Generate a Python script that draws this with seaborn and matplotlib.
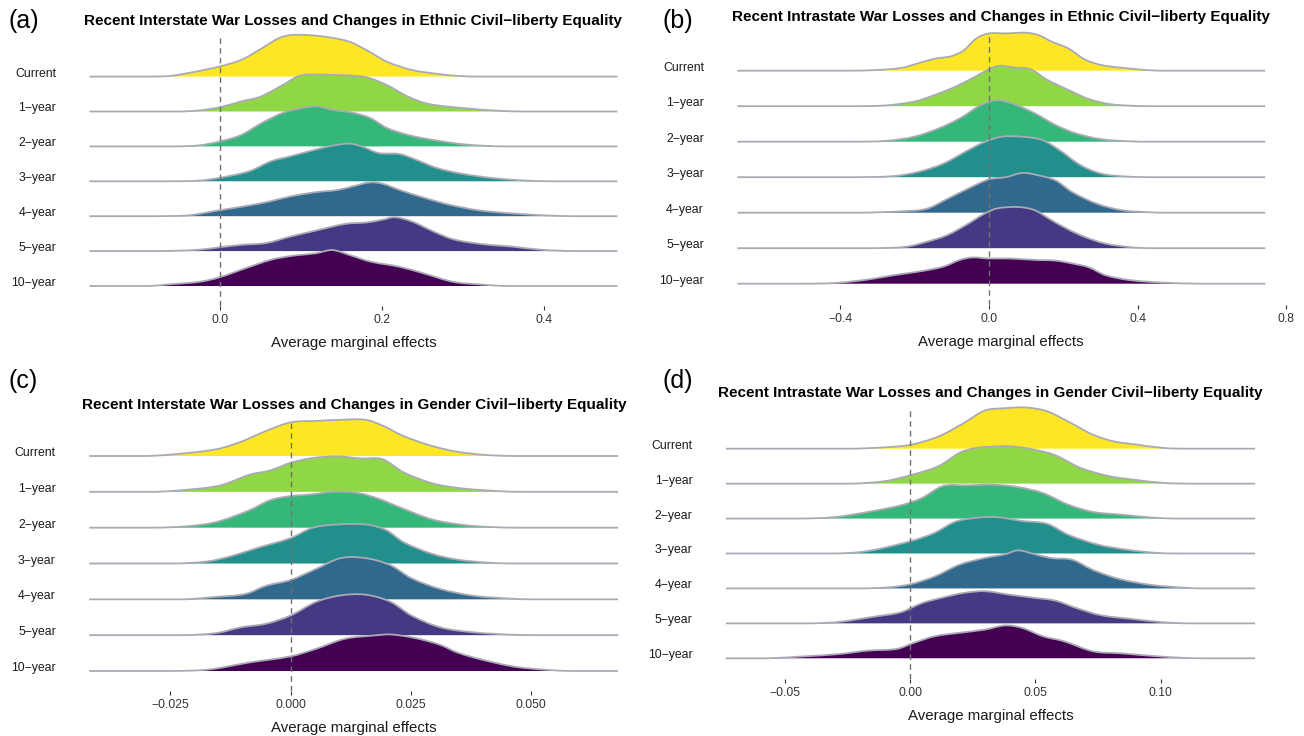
import numpy as np
import matplotlib
matplotlib.use("Agg")
import matplotlib.pyplot as plt
import matplotlib.transforms as mtransforms
from matplotlib.path import Path
from matplotlib.patches import PathPatch
import seaborn as sns

# ridge rows, top to bottom
rows = ["Current", "1\u2212year", "2\u2212year", "3\u2212year", "4\u2212year", "5\u2212year", "10\u2212year"]
colors = ["#FDE725", "#8FD744", "#35B779", "#21908C", "#31688E", "#443A83", "#440154"]
xlabel = "Average marginal effects"

# (a) interstate / ethnic
a_title = "Recent Interstate War Losses and Changes in Ethnic Civil\u2212liberty Equality"
a_range = [-0.1605, 0.4906]
a_ticks = [0.0, 0.2, 0.4]
a_ticklabels = ["0.0", "0.2", "0.4"]
a_x = [
    [-0.09, -0.061, -0.030, 0.000, 0.027, 0.052, 0.073, 0.088, 0.109, 0.134, 0.160, 0.181, 0.206, 0.237, 0.268, 0.293, 0.319],
    [-0.050, -0.025, 0.000, 0.027, 0.051, 0.078, 0.098, 0.119, 0.150, 0.181, 0.206, 0.232, 0.257, 0.304, 0.345, 0.375],
    [-0.055, -0.025, 0.000, 0.027, 0.052, 0.078, 0.098, 0.119, 0.139, 0.165, 0.186, 0.206, 0.232, 0.257, 0.293, 0.324, 0.355],
    [-0.066, -0.025, 0.000, 0.037, 0.063, 0.088, 0.119, 0.139, 0.160, 0.175, 0.196, 0.222, 0.242, 0.268, 0.298, 0.334, 0.370, 0.406],
    [-0.086, -0.040, 0.000, 0.037, 0.063, 0.088, 0.119, 0.145, 0.165, 0.186, 0.201, 0.222, 0.252, 0.283, 0.319, 0.360, 0.406, 0.437],
    [-0.076, -0.025, 0.000, 0.027, 0.057, 0.088, 0.119, 0.155, 0.181, 0.201, 0.216, 0.237, 0.263, 0.288, 0.324, 0.360, 0.396, 0.437],
    [-0.086, -0.066, -0.025, 0.000, 0.032, 0.063, 0.088, 0.119, 0.139, 0.160, 0.186, 0.222, 0.252, 0.288, 0.324, 0.355],
]
a_h = [
    [0, 0.02, 0.14, 0.29, 0.48, 0.81, 1.10, 1.19, 1.19, 1.13, 1.00, 0.76, 0.43, 0.19, 0.08, 0.02, 0],
    [0, 0.03, 0.12, 0.29, 0.43, 0.76, 1.02, 1.06, 1.04, 0.98, 0.76, 0.43, 0.22, 0.09, 0.02, 0],
    [0, 0.03, 0.14, 0.33, 0.67, 0.96, 1.08, 1.15, 1.05, 0.96, 0.81, 0.53, 0.33, 0.21, 0.08, 0.02, 0],
    [0, 0.02, 0.10, 0.29, 0.57, 0.72, 0.91, 1.02, 1.08, 1.00, 0.81, 0.78, 0.62, 0.38, 0.22, 0.10, 0.03, 0],
    [0, 0.02, 0.17, 0.31, 0.43, 0.57, 0.69, 0.75, 0.86, 0.97, 0.93, 0.75, 0.53, 0.33, 0.17, 0.08, 0.02, 0],
    [0, 0.04, 0.11, 0.18, 0.23, 0.42, 0.59, 0.78, 0.82, 0.90, 0.97, 0.85, 0.57, 0.34, 0.20, 0.13, 0.04, 0],
    [0, 0.04, 0.12, 0.25, 0.51, 0.75, 0.86, 0.94, 1.03, 0.89, 0.70, 0.55, 0.36, 0.12, 0.04, 0],
]

# (b) intrastate / ethnic
b_title = "Recent Intrastate War Losses and Changes in Ethnic Civil\u2212liberty Equality"
b_range = [-0.677, 0.743]
b_ticks = [-0.4, 0.0, 0.4, 0.8]
b_ticklabels = ["\u22120.4", "0.0", "0.4", "0.8"]
b_x = [
    [-0.380, -0.302, -0.235, -0.190, -0.145, -0.101, -0.067, -0.034, 0.000, 0.045, 0.101, 0.134, 0.168, 0.213, 0.257, 0.302, 0.369, 0.436, 0.481],
    [-0.369, -0.280, -0.201, -0.145, -0.090, -0.034, 0.000, 0.028, 0.067, 0.112, 0.157, 0.213, 0.269, 0.324, 0.392, 0.459],
    [-0.369, -0.280, -0.201, -0.134, -0.078, -0.022, 0.022, 0.067, 0.123, 0.179, 0.235, 0.302, 0.380, 0.436],
    [-0.369, -0.257, -0.190, -0.123, -0.056, -0.011, 0.034, 0.090, 0.145, 0.190, 0.246, 0.302, 0.369, 0.436],
    [-0.347, -0.235, -0.168, -0.112, -0.056, 0.000, 0.045, 0.090, 0.134, 0.179, 0.224, 0.291, 0.358, 0.436, 0.481],
    [-0.324, -0.224, -0.168, -0.112, -0.056, -0.011, 0.022, 0.078, 0.123, 0.168, 0.213, 0.257, 0.313, 0.380, 0.436],
    [-0.503, -0.414, -0.324, -0.257, -0.190, -0.123, -0.078, -0.045, 0.000, 0.056, 0.123, 0.179, 0.224, 0.269, 0.313, 0.380, 0.470, 0.571],
]
b_h = [
    [0, 0.02, 0.08, 0.21, 0.34, 0.41, 0.58, 0.91, 1.05, 1.05, 1.07, 1.00, 0.82, 0.63, 0.32, 0.16, 0.07, 0.01, 0],
    [0, 0.02, 0.13, 0.32, 0.55, 0.85, 1.04, 1.14, 1.09, 1.04, 0.74, 0.46, 0.20, 0.06, 0.01, 0],
    [0, 0.02, 0.14, 0.38, 0.66, 1.03, 1.17, 1.06, 0.80, 0.47, 0.23, 0.07, 0.01, 0],
    [0, 0.03, 0.15, 0.38, 0.76, 1.00, 1.14, 1.14, 1.04, 0.76, 0.34, 0.10, 0.02, 0],
    [0, 0.04, 0.11, 0.39, 0.68, 0.94, 1.00, 1.12, 1.05, 0.91, 0.58, 0.25, 0.07, 0.01, 0],
    [0, 0.04, 0.18, 0.37, 0.69, 0.98, 1.12, 1.16, 1.07, 0.79, 0.53, 0.32, 0.13, 0.03, 0],
    [0, 0.02, 0.12, 0.24, 0.34, 0.48, 0.67, 0.74, 0.71, 0.71, 0.67, 0.65, 0.57, 0.46, 0.24, 0.10, 0.03, 0],
]

# (c) interstate / gender
c_title = "Recent Interstate War Losses and Changes in Gender Civil\u2212liberty Equality"
c_range = [-0.0419, 0.0681]
c_ticks = [-0.025, 0.0, 0.025, 0.05]
c_ticklabels = ["\u22120.025", "0.000", "0.025", "0.050"]
c_x = [
    [-0.0301, -0.0241, -0.0154, -0.0103, -0.0051, 0.0, 0.0053, 0.0104, 0.0156, 0.0191, 0.0234, 0.0294, 0.0346, 0.0406, 0.0466],
    [-0.0284, -0.0215, -0.0146, -0.0085, -0.0042, 0.0, 0.0044, 0.0096, 0.0147, 0.0191, 0.0234, 0.0294, 0.0354, 0.0432, 0.0484],
    [-0.0284, -0.0215, -0.0154, -0.0085, -0.0042, 0.0, 0.0044, 0.0087, 0.0139, 0.0182, 0.0234, 0.0294, 0.0363, 0.0432, 0.0475],
    [-0.0241, -0.0172, -0.0120, -0.0068, 0.0, 0.0044, 0.0087, 0.0156, 0.0199, 0.0234, 0.0294, 0.0346, 0.0415, 0.0466],
    [-0.0223, -0.0154, -0.0094, -0.0051, 0.0, 0.0053, 0.0104, 0.0156, 0.0208, 0.0251, 0.0311, 0.0380, 0.0458, 0.0501],
    [-0.0223, -0.0154, -0.0103, -0.0051, 0.0, 0.0053, 0.0104, 0.0156, 0.0208, 0.0251, 0.0311, 0.0380, 0.0466, 0.0509],
    [-0.0258, -0.0172, -0.0085, 0.0, 0.0053, 0.0113, 0.0173, 0.0208, 0.0259, 0.0311, 0.0346, 0.0397, 0.0466, 0.0535, 0.0587],
]
c_h = [
    [0, 0.05, 0.19, 0.40, 0.70, 0.94, 0.98, 1.01, 1.01, 0.85, 0.56, 0.28, 0.12, 0.03, 0],
    [0, 0.06, 0.18, 0.48, 0.60, 0.81, 0.94, 0.99, 0.93, 0.91, 0.55, 0.24, 0.10, 0.02, 0],
    [0, 0.04, 0.16, 0.49, 0.77, 0.88, 0.93, 1.00, 0.97, 0.81, 0.53, 0.23, 0.07, 0.01, 0],
    [0, 0.06, 0.22, 0.44, 0.71, 0.99, 1.08, 1.09, 0.93, 0.60, 0.27, 0.11, 0.02, 0],
    [0, 0.07, 0.15, 0.38, 0.54, 0.85, 1.15, 1.15, 0.95, 0.59, 0.29, 0.10, 0.02, 0],
    [0, 0.06, 0.22, 0.32, 0.55, 0.93, 1.11, 1.13, 0.93, 0.55, 0.22, 0.08, 0.01, 0],
    [0, 0.04, 0.24, 0.41, 0.62, 0.90, 0.99, 1.02, 0.92, 0.73, 0.52, 0.32, 0.12, 0.03, 0],
]

# (d) intrastate / gender
d_title = "Recent Intrastate War Losses and Changes in Gender Civil\u2212liberty Equality"
d_range = [-0.0737, 0.1378]
d_ticks = [-0.05, 0.0, 0.05, 0.10]
d_ticklabels = ["\u22120.05", "0.00", "0.05", "0.10"]
d_x = [
    [-0.0237, -0.0103, 0.0, 0.0113, 0.0213, 0.0297, 0.0380, 0.0463, 0.0547, 0.0630, 0.0730, 0.0813, 0.0913, 0.1013, 0.1097],
    [-0.0237, -0.0103, 0.0, 0.0113, 0.0197, 0.0263, 0.0397, 0.0497, 0.0580, 0.0680, 0.0797, 0.0897, 0.1013, 0.1113],
    [-0.0453, -0.0303, -0.0153, -0.0037, 0.0047, 0.0130, 0.0230, 0.0330, 0.0430, 0.0530, 0.0630, 0.0730, 0.0847, 0.0963, 0.1063],
    [-0.0303, -0.0170, 0.0, 0.0097, 0.0180, 0.0263, 0.0347, 0.0447, 0.0547, 0.0630, 0.0747, 0.0863, 0.0980, 0.1063],
    [-0.0203, -0.0087, 0.0, 0.0097, 0.0197, 0.0297, 0.0380, 0.0430, 0.0497, 0.0563, 0.0647, 0.0730, 0.0830, 0.0963, 0.1097, 0.1163],
    [-0.0403, -0.0287, -0.0137, -0.0037, 0.0047, 0.0130, 0.0213, 0.0297, 0.0397, 0.0497, 0.0580, 0.0663, 0.0763, 0.0880, 0.1013, 0.1113],
    [-0.0570, -0.0437, -0.0287, -0.0170, -0.0053, 0.0013, 0.0097, 0.0197, 0.0297, 0.0380, 0.0447, 0.0530, 0.0613, 0.0730, 0.0847, 0.0963, 0.1097, 0.1180],
]
d_h = [
    [0, 0.04, 0.11, 0.35, 0.73, 1.09, 1.16, 1.18, 1.07, 0.78, 0.40, 0.21, 0.11, 0.02, 0],
    [0, 0.07, 0.24, 0.50, 0.88, 1.02, 1.07, 0.97, 0.81, 0.45, 0.21, 0.11, 0.02, 0],
    [0, 0.04, 0.21, 0.38, 0.59, 0.93, 0.95, 0.97, 0.90, 0.73, 0.40, 0.19, 0.11, 0.03, 0],
    [0, 0.07, 0.35, 0.59, 0.91, 1.02, 1.04, 0.93, 0.85, 0.54, 0.26, 0.11, 0.02, 0],
    [0, 0.03, 0.12, 0.34, 0.68, 0.87, 0.98, 1.09, 0.98, 0.87, 0.82, 0.53, 0.28, 0.10, 0.02, 0],
    [0, 0.04, 0.20, 0.32, 0.58, 0.74, 0.87, 0.92, 0.82, 0.73, 0.65, 0.44, 0.23, 0.13, 0.03, 0],
    [0, 0.05, 0.12, 0.22, 0.27, 0.44, 0.63, 0.73, 0.82, 0.94, 0.87, 0.63, 0.49, 0.20, 0.14, 0.07, 0.01, 0],
]

sns.set_theme(style="white")
plt.rcParams["font.family"] = ["Liberation Sans", "DejaVu Sans"]

fig = plt.figure(figsize=(13.04, 7.36), dpi=100)
W, H = 1304, 736
outline = "#aaaab4"


def ridge_path(x, y, base):
    # smooth cubic (Hermite) path through the read-off points
    x = np.asarray(x, float)
    y = np.asarray(y, float)
    n = len(x)
    m = np.zeros(n)
    m[1:-1] = (y[2:] - y[:-2]) / (x[2:] - x[:-2])
    verts = [(x[0], y[0])]
    codes = [Path.MOVETO]
    for k in range(n - 1):
        h = x[k + 1] - x[k]
        y1 = max(y[k] + m[k] * h / 3, base)
        y2 = max(y[k + 1] - m[k + 1] * h / 3, base)
        verts += [(x[k] + h / 3, y1), (x[k + 1] - h / 3, y2), (x[k + 1], y[k + 1])]
        codes += [Path.CURVE4] * 3
    return verts, codes


def ridges(rect, xs, hs, rng, ticks, ticklabels, ylim, title, title_xy, letter, letter_xy):
    ax = fig.add_axes(rect)
    n = len(rows)
    for i in range(n):
        base = n - 1 - i
        x = np.r_[rng[0], xs[i], rng[1]]
        y = base + np.r_[0, hs[i], 0]
        verts, codes = ridge_path(x, y, base)
        fill = PathPatch(Path(verts + [(x[0], base)], codes + [Path.CLOSEPOLY]),
                         facecolor=colors[i], lw=0, zorder=2 * i + 1, clip_on=False)
        line = PathPatch(Path(verts, codes), facecolor="none", edgecolor=outline,
                         lw=1.3, zorder=2 * i + 2, clip_on=False)
        ax.add_patch(fill)
        ax.add_patch(line)
    ax.axvline(0, color="#707070", lw=1.0, ls=(0, (4, 3)), zorder=30)

    span = rng[1] - rng[0]
    ax.set_xlim(rng[0] - 0.05 * span, rng[1] + 0.05 * span)
    ax.set_ylim(*ylim)
    ax.set_xticks(ticks)
    ax.set_xticklabels(ticklabels)
    ax.set_yticks([])
    ax.tick_params(axis="x", bottom=True, length=3, width=0.8, color="#333333",
                   pad=3, labelsize=8.8, labelcolor="#333333")
    sns.despine(ax=ax, left=True, bottom=True)
    ax.set_xlabel(xlabel, fontsize=10.8, labelpad=7, color="#1a1a1a")

    trans = mtransforms.blended_transform_factory(ax.transAxes, ax.transData)
    for i, name in enumerate(rows):
        ax.text(-0.012, n - 1 - i, name, transform=trans, ha="right", va="baseline",
                fontsize=8.8, color="#1a1a1a")

    fig.text(title_xy[0] / W, 1 - title_xy[1] / H, title, ha="center", va="center",
             fontsize=11, fontweight="bold", color="black")
    fig.text(letter_xy[0] / W, 1 - letter_xy[1] / H, letter, ha="center", va="center",
             fontsize=18, color="black")
    return ax


ridges([0.04839, 0.58424, 0.44532, 0.36685], a_x, a_h, a_range, a_ticks, a_ticklabels,
       (-0.573, 7.163), a_title, (353.5, 20.7), "(a)", (24, 21))
ridges([0.54522, 0.58560, 0.44525, 0.36957], b_x, b_h, b_range, b_ticks, b_ticklabels,
       (-0.600, 7.062), b_title, (1001, 17.3), "(b)", (678, 21))
ridges([0.04816, 0.06114, 0.44609, 0.36685], c_x, c_h, c_range, c_ticks, c_ticklabels,
       (-0.558, 6.977), c_title, (354, 405), "(c)", (23, 381))
ridges([0.53635, 0.07745, 0.44647, 0.36549], d_x, d_h, d_range, d_ticks, d_ticklabels,
       (-0.593, 7.108), d_title, (990.5, 393), "(d)", (678, 381))

fig.savefig("out.png", dpi=100, facecolor="white")
